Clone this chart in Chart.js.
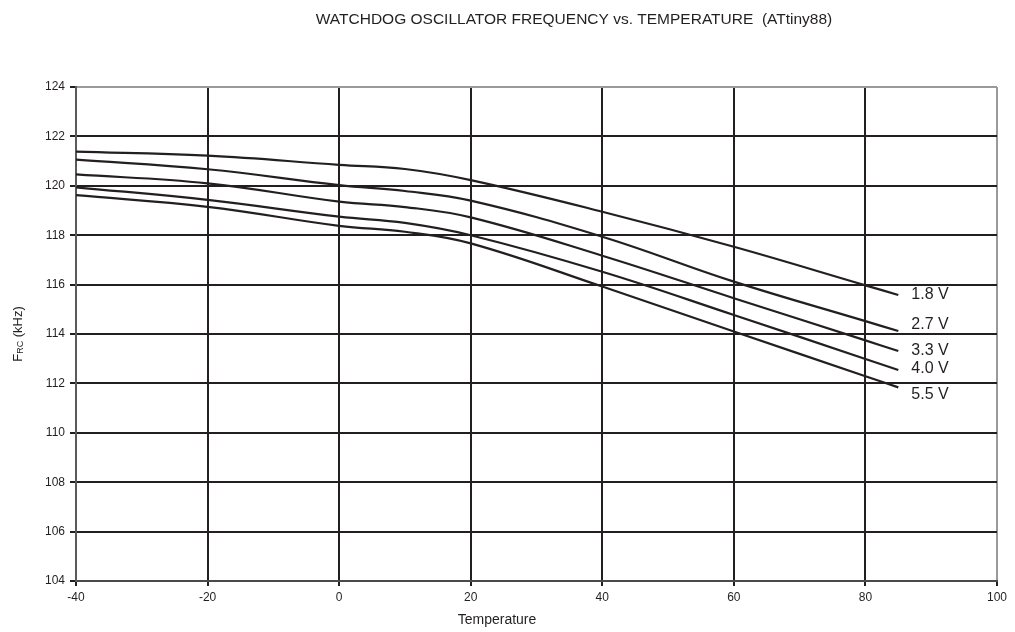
<!DOCTYPE html>
<html lang="en">
<head>
  <meta charset="UTF-8">
  <title>Watchdog Oscillator Frequency vs. Temperature</title>
  <script src="https://cdn.jsdelivr.net/npm/chart.js"></script>
  <style>
    body {
      margin: 0;
      background: #fff;
      font-family: "Liberation Sans", Arial, sans-serif;
    }
    #wrap {
      position: relative;
      width: 1015px;
      height: 632px;
    }
  </style>
</head>
<body>
  <div id="wrap">
    <canvas id="wdtChart"></canvas>
  </div>

  <script>
    // Temperature points (deg C)
    const temps = [-40, -20, 0, 10, 20, 40, 60, 80, 85];

    // F_RC in kHz for each supply voltage
    const f18 = [121.38, 121.22, 120.85, 120.68, 120.23, 118.95, 117.53, 115.97, 115.58];
    const f27 = [121.06, 120.67, 120.03, 119.79, 119.40, 117.94, 116.12, 114.52, 114.12];
    const f33 = [120.46, 120.10, 119.36, 119.14, 118.72, 117.17, 115.45, 113.74, 113.31];
    const f40 = [119.94, 119.43, 118.75, 118.50, 118.00, 116.52, 114.77, 112.99, 112.54];
    const f55 = [119.62, 119.15, 118.38, 118.14, 117.67, 115.92, 114.10, 112.29, 111.84];

    const voltages = ["1.8 V", "2.7 V", "3.3 V", "4.0 V", "5.5 V"];
    const series = [f18, f27, f33, f40, f55];

    // axis ranges
    const xMin = -40, xMax = 100, xStep = 20;
    const yMin = 104, yMax = 124, yStep = 2;

    // small vertical nudges for the end labels so they don't collide
    const labelNudge = [0, -6, 0, -1, 7];

    const INK = "#231f20";
    const EDGE = "#9a9a9a";
    const FONT = '"Liberation Sans", Arial, sans-serif';

    function toPoints(vals) {
      return temps.map((t, i) => ({ x: t, y: vals[i] }));
    }

    // Draws the title, axis titles and the voltage labels at the line ends
    const textPlugin = {
      id: "chartText",
      afterDraw(chart) {
        const c = chart.ctx;
        const xs = chart.scales.x;
        const ys = chart.scales.y;
        c.save();
        c.fillStyle = INK;
        c.textAlign = "center";
        c.textBaseline = "middle";

        // title
        c.font = "15.5px " + FONT;
        c.fillText("WATCHDOG OSCILLATOR FREQUENCY vs. TEMPERATURE  (ATtiny88)", 574, 20);

        // x axis title
        c.font = "14px " + FONT;
        c.fillText("Temperature", 497, 620);

        // y axis title with subscript
        c.translate(18, (chart.chartArea.top + chart.chartArea.bottom) / 2);
        c.rotate(-Math.PI / 2);
        c.textAlign = "left";
        c.font = "13px " + FONT;
        const wF = c.measureText("F").width;
        c.font = "9px " + FONT;
        const wSub = c.measureText("RC").width;
        c.font = "13px " + FONT;
        const wRest = c.measureText(" (kHz)").width;
        const x0 = -(wF + wSub + wRest) / 2;
        c.fillText("F", x0, 0);
        c.font = "9px " + FONT;
        c.fillText("RC", x0 + wF, 3);
        c.font = "13px " + FONT;
        c.fillText(" (kHz)", x0 + wF + wSub, 0);
        c.restore();

        // voltage labels
        c.save();
        c.fillStyle = INK;
        c.font = "16px " + FONT;
        c.textAlign = "left";
        c.textBaseline = "middle";
        const lastT = temps[temps.length - 1];
        series.forEach((vals, i) => {
          const px = xs.getPixelForValue(lastT) + 13;
          const py = ys.getPixelForValue(vals[vals.length - 1]) + labelNudge[i];
          c.fillText(voltages[i], px, py);
        });
        c.restore();
      }
    };

    const ctx = document.getElementById("wdtChart").getContext("2d");

    new Chart(ctx, {
      type: "line",
      data: {
        datasets: series.map((vals, i) => ({
          label: voltages[i],
          data: toPoints(vals),
          borderColor: INK,
          borderWidth: 2.2,
          pointRadius: 0,
          fill: false,
          tension: 0.4
        }))
      },
      options: {
        responsive: true,
        maintainAspectRatio: false,
        animation: false,
        layout: {
          padding: { left: 0, top: 87, right: 18, bottom: 0 }
        },
        plugins: {
          legend: { display: false },
          title: { display: false },
          tooltip: { enabled: false }
        },
        scales: {
          x: {
            type: "linear",
            min: xMin,
            max: xMax,
            afterFit(scale) { scale.height = 51; },
            ticks: {
              stepSize: xStep,
              color: INK,
              padding: 4,
              font: { family: FONT, size: 12 }
            },
            grid: {
              color: (c) => (c.tick && c.tick.value === xMax ? EDGE : INK),
              lineWidth: 2,
              tickLength: 5,
              tickColor: INK
            },
            border: { color: "#4a4a4a", width: 2 }
          },
          y: {
            min: yMin,
            max: yMax,
            afterFit(scale) { scale.width = 76; },
            ticks: {
              stepSize: yStep,
              color: INK,
              padding: 5,
              font: { family: FONT, size: 12 }
            },
            grid: {
              color: (c) => (c.tick && c.tick.value === yMax ? EDGE : INK),
              lineWidth: 2,
              tickLength: 6,
              tickColor: INK
            },
            border: { color: "#5a5a5a", width: 2 }
          }
        }
      },
      plugins: [textPlugin]
    });
  </script>
</body>
</html>
